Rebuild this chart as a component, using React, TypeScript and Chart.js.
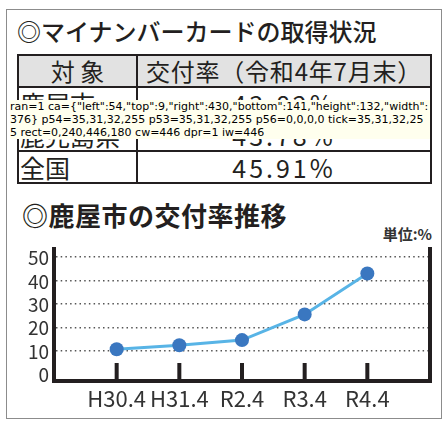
import React, { useEffect, useRef, useState } from "react";
import { Chart, registerables } from "chart.js";

const categories = ["H30.4", "H31.4", "R2.4", "R3.4", "R4.4"];
const rates = [10.6, 12.3, 14.5, 25.5, 43.0];
const yTickValues = [0, 10, 20, 30, 40, 50];
const yMin = -3;
const yMax = 53.5;
const tableHeader = ["対 象", "交付率（令和4年7月末）"];
const tableAreas = ["鹿屋市", "鹿児島県", "全国"];
const tableRates = ["43.82%", "43.78%", "45.91%"];
const title1 = "◎マイナンバーカードの取得状況";
const title2 = "◎鹿屋市の交付率推移";
const unitLabel = "単位:%";

const FONT = '"Noto Sans CJK JP", "Noto Sans", sans-serif';
const INK = "#231f20";
let ran = 0;

const frameAxes = {
  id: "frameAxes",
  afterDraw(chart: any) {
    ran++;
    const { ctx, chartArea, scales } = chart;
    const xs = scales.x;
    if (!xs || !chartArea) return;
    ctx.save();
    ctx.strokeStyle = INK;
    ctx.lineWidth = 4;
    ctx.setLineDash([]);
    ctx.beginPath();
    ctx.moveTo(chartArea.left, chartArea.top - 2);
    ctx.lineTo(chartArea.left, chartArea.bottom + 2);
    ctx.moveTo(chartArea.right, chartArea.top - 2);
    ctx.lineTo(chartArea.right, chartArea.bottom + 2);
    ctx.moveTo(chartArea.left - 2, chartArea.bottom);
    ctx.lineTo(chartArea.right + 2, chartArea.bottom);
    xs.ticks.forEach((t: any) => {
      const px = xs.getPixelForValue(t.value);
      ctx.moveTo(px, chartArea.bottom);
      ctx.lineTo(px, chartArea.bottom - 18);
    });
    ctx.stroke();
    ctx.restore();
  },
};

Chart.register(...registerables, frameAxes);

function LineChart({ onInfo }: any) {
  const ref = useRef<HTMLCanvasElement | null>(null);
  useEffect(() => {
    if (!ref.current) return;
    const chart: any = new Chart(ref.current, {
      type: "line",
      data: {
        datasets: [
          {
            data: rates.map((v, i) => ({ x: i, y: v })),
            borderColor: "#58b4e6",
            borderWidth: 3,
            pointRadius: 7,
            pointBackgroundColor: "#3a77c0",
            pointBorderWidth: 0,
            tension: 0,
          },
        ],
      },
      options: {
        responsive: false,
        animation: false,
        events: [],
        layout: { padding: { top: 9, left: 0, right: 0, bottom: 0 } },
        plugins: { legend: { display: false }, tooltip: { enabled: false } },
        scales: {
          x: {
            type: "linear", min: -1, max: 5,
            afterBuildTicks: (s: any) => { s.ticks = categories.map((_, i) => ({ value: i })); },
            afterFit: (s: any) => { s.height = 39; s.paddingLeft = 0; s.paddingRight = 0; },
            grid: { display: false, drawTicks: false },
            border: { display: true, width: 4, color: INK },
            ticks: { callback: (v: any) => categories[v] ?? "", font: { family: FONT, size: 22 }, color: "#333", padding: 4, autoSkip: false, maxRotation: 0 },
          },
          y: {
            type: "linear", position: "left", min: yMin, max: yMax,
            afterBuildTicks: (s: any) => { s.ticks = yTickValues.map((v) => ({ value: v })); },
            afterFit: (s: any) => { s.width = 54; s.paddingTop = 0; s.paddingBottom = 0; },
            grid: { drawTicks: false, color: (c: any) => (c.tick && c.tick.value === 0 ? "rgba(0,0,0,0)" : "#555"), lineWidth: 1.5 },
            border: { display: true, width: 4, color: INK, dash: [1.5, 3.2] },
            ticks: { font: { family: FONT, size: 19 }, color: "#333", padding: 5, labelOffset: 1, autoSkip: false },
          },
          y2: {
            type: "linear", position: "right", display: true, min: yMin, max: yMax,
            afterFit: (s: any) => { s.width = 16; s.paddingTop = 0; s.paddingBottom = 0; },
            grid: { display: false, drawTicks: false },
            border: { display: true, width: 4, color: INK },
            ticks: { display: false },
          },
        },
      } as any,
    });
    const ctx = ref.current.getContext("2d")!;
    const px = (x: number, y: number) => Array.from(ctx.getImageData(x, y, 1, 1).data).join(",");
    const t = setTimeout(() => {
      const r = ref.current!.getBoundingClientRect();
      onInfo(`ran=${ran} ca=${JSON.stringify(chart.chartArea)} p54=${px(54, 60)} p53=${px(53, 60)} p56=${px(56, 60)} tick=${px(117, 130)} rect=${r.left},${r.top},${r.width},${r.height} cw=${ref.current!.width} dpr=${window.devicePixelRatio} iw=${window.innerWidth}`);
    }, 80);
    return () => { clearTimeout(t); chart.destroy(); };
  }, []);
  return <canvas ref={ref} width={446} height={180} style={{ position: "absolute", left: 0, top: 240, width: 446, height: 180 }} />;
}

const cellBorder = `2.5px solid ${INK}`;

export default function App() {
  const [info, setInfo] = useState("");
  const rowH = 32;
  return (
    <div style={{ position: "absolute", left: 0, top: 0, width: 446, height: 427, background: "#fff", fontFamily: FONT, color: INK, overflow: "hidden" }}>
      <div style={{ position: "absolute", left: 6, top: 9, width: 436, height: 410, boxSizing: "border-box", border: "1.5px solid #8c8c8c" }} />
      <div style={{ position: "absolute", left: 17, top: 19, fontSize: 24, lineHeight: "24px", fontWeight: 500, whiteSpace: "nowrap" }}>{title1}</div>
      <table style={{ position: "absolute", left: 17, top: 54, width: 415, borderCollapse: "collapse", tableLayout: "fixed", fontSize: 25 }}>
        <colgroup><col style={{ width: 119 }} /><col /></colgroup>
        <tbody>
          <tr style={{ height: rowH, background: "#e2e2e2" }}>
            <td style={{ border: cellBorder, textAlign: "center", padding: 0, lineHeight: "28px", fontSize: 24 }}>{tableHeader[0]}</td>
            <td style={{ border: cellBorder, textAlign: "center", padding: 0, lineHeight: "28px", fontSize: 24, letterSpacing: 0.8 }}>{tableHeader[1]}</td>
          </tr>
          {tableAreas.map((a, i) => (
            <tr key={a} style={{ height: rowH }}>
              <td style={{ border: cellBorder, padding: "0 0 0 1px", lineHeight: "28px", whiteSpace: "nowrap" }}>{a}</td>
              <td style={{ border: cellBorder, textAlign: "center", padding: 0, lineHeight: "28px", letterSpacing: 3 }}>{tableRates[i]}</td>
            </tr>
          ))}
        </tbody>
      </table>
      <div style={{ position: "absolute", left: 22, top: 202, fontSize: 26, lineHeight: "26px", fontWeight: 700, whiteSpace: "nowrap", letterSpacing: 0.5 }}>{title2}</div>
      <div style={{ position: "absolute", right: 14, top: 226, fontSize: 15, lineHeight: "15px", fontWeight: 700, whiteSpace: "nowrap", color: "#333" }}>{unitLabel}</div>
      <div style={{ position: "absolute", left: 10, top: 100, width: 420, fontSize: 11, fontFamily: "DejaVu Sans", wordBreak: "break-all", background: "#ffe", color: "#000" }}>{info}</div>
      <LineChart onInfo={setInfo} />
    </div>
  );
}
